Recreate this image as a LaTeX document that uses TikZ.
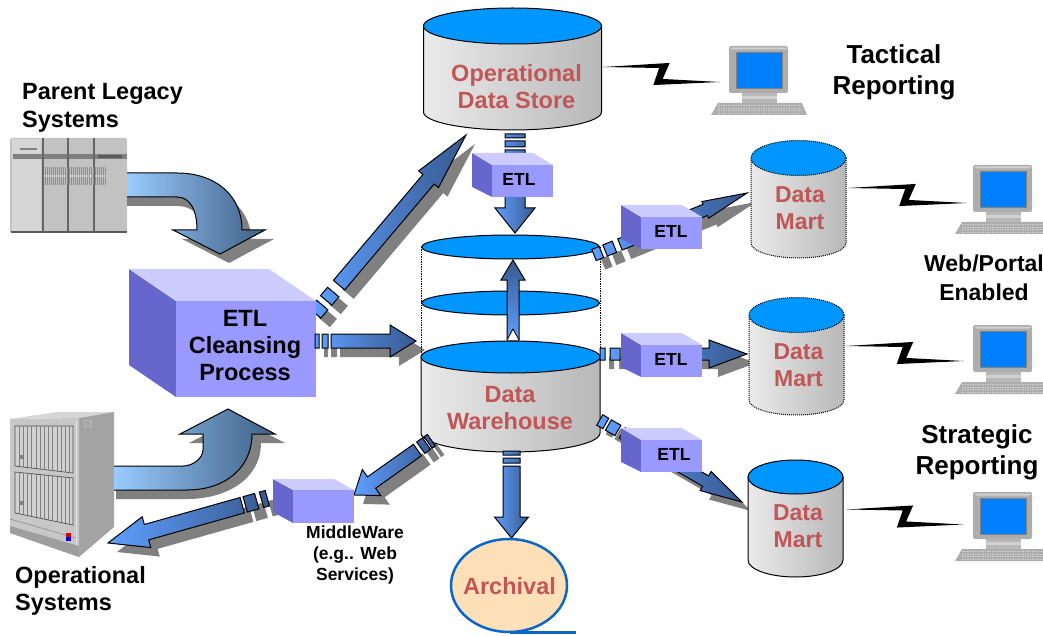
\documentclass[tikz,border=0pt]{standalone}
\usepackage{fontspec}
\setmainfont{Liberation Sans}
\usetikzlibrary{calc}
\definecolor{blueTop}{HTML}{0096FF}
\definecolor{screenBlue}{HTML}{0080FF}
\definecolor{labelRed}{HTML}{C25555}
\definecolor{boxFront}{HTML}{9999FF}
\definecolor{boxTop}{HTML}{CCCCFF}
\definecolor{boxLeft}{HTML}{6666CC}
\definecolor{arrowLight}{HTML}{5F9FFF}
\definecolor{arrowDark}{HTML}{38598F}
\definecolor{shadowGray}{HTML}{808080}
\definecolor{hookLight}{HTML}{99CCFF}
\definecolor{hookDark}{HTML}{3F5F85}
\definecolor{tapeBlue}{HTML}{0A66C8}
\definecolor{tapeFill}{HTML}{FDE0B8}
\tikzset{
  x=1pt,y=-1pt,
  lblA/.style={font=\bfseries\fontsize{23.5}{27}\selectfont,align=center,inner sep=0pt},
  lblB/.style={font=\bfseries\fontsize{26}{31}\selectfont,align=center,inner sep=0pt},
  lblL/.style={font=\bfseries\fontsize{23.5}{27.5}\selectfont,align=left,inner sep=0pt,anchor=west},
  lblRed/.style={lblA,text=labelRed},
  lblMart/.style={font=\bfseries\fontsize{23}{27}\selectfont,align=center,inner sep=0pt,text=labelRed},
  lblEtl/.style={font=\bfseries\fontsize{17.5}{21}\selectfont,inner sep=0pt},
  lblMid/.style={font=\bfseries\fontsize{17.5}{21}\selectfont,align=center,inner sep=0pt},
  edgeLine/.style={draw=black,line width=1pt},
  dotLine/.style={draw=black,line width=1pt,densely dotted},
  arrowFill/.style={draw=black,line width=1pt,left color=arrowLight,right color=arrowDark},
  hookFill/.style={draw=black,line width=1pt,left color=hookLight,right color=hookDark},
  shadowFill/.style={fill=shadowGray,draw=none},
}
% block arrow: from, to, half shaft, half head, head length, segments, shaft start
\newcommand\getvec[2]{\path let \p1=($(#2)-(#1)$), \n1={atan2(\y1,\x1)}, \n2={veclen(\x1,\y1)} in
  \pgfextra{\xdef\vang{\n1}\pgfmathparse{\n2}\xdef\vlen{\pgfmathresult}};}
\newcommand\arrowgeom[5]{%
  \foreach \sa/\sb in {#4}{ (\sa,-#1) -- (\sb,-#1) -- (\sb,#1) -- (\sa,#1) -- cycle }
  (#5,-#1) -- ({\vlen-#3},-#1) -- ({\vlen-#3},-#2) -- (\vlen,0) -- ({\vlen-#3},#2) -- ({\vlen-#3},#1) -- (#5,#1) -- cycle}
\newcommand\drawArrow[8][arrowFill]{\getvec{#2}{#3}%
  \begin{scope}[shift={(#2)},rotate=\vang]
  \path[#1] \arrowgeom{#4}{#5}{#6}{#7}{#8};
  \end{scope}}
\newcommand\shadowArrow[8][]{\getvec{#2}{#3}%
  \begin{scope}[shift={(#2)},shift={(9,9)},rotate=\vang]
  \path[shadowFill] \arrowgeom{#4}{#5}{#6}{#7}{#8};
  \end{scope}}
% cylinder: cx, top cy, rx, top ry, bottom cy, bottom ry, edge style
\newcommand\cylinder[7]{%
  \path[#7,left color=white!92!black,right color=white!72!black]
    ({#1-#3},#2) -- ({#1-#3},#5) arc[start angle=180,end angle=360,x radius=#3pt,y radius=#6pt] -- ({#1+#3},#2) -- cycle;
  \path[#7,fill=blueTop] (#1,#2) ellipse[x radius=#3pt,y radius=#4pt];}
% box faces: front x, y, w, h, dx, dy top, dy bottom
\newcommand\boxfaces[7]{%
  \fill[boxLeft] ({#1-#5},{#2-#6}) -- (#1,#2) -- (#1,{#2+#4}) -- ({#1-#5},{#2+#4-#7}) -- cycle;
  \fill[boxTop] ({#1-#5},{#2-#6}) -- ({#1+#3-#5},{#2-#6}) -- ({#1+#3},#2) -- (#1,#2) -- cycle;}
% small box: name, front x, front y, text x, text y
\newcommand\smallbox[5]{\boxfaces{#2}{#3}{61}{32}{20}{12}{10}%
  \node[fill=boxFront,minimum width=61pt,minimum height=32pt,anchor=north west,inner sep=0pt] (#1) at (#2,#3) {};
  \node[lblEtl] (#1L) at (#4,#5) {ETL};}
% computer at offset
\newcommand\computer[3]{%
  \begin{scope}[shift={(#2,#3)}]
  \coordinate (#1) at (729,70);
  \fill[white!68!black] (711,115) -- (718,103) -- (802,103) -- (807,115) -- cycle;
  \foreach \yy in {105.5,108,110.5,113}{\draw[white!82!black,line width=.5pt,dash pattern=on 1.5pt off 1pt] (718,\yy) -- (802,\yy);}
  \fill[white!72!black] (742,92) rectangle (777,103);
  \fill[white!82!black] (742,96) rectangle (777,99);
  \fill[white!68!black,rounded corners=2pt] (729,46) rectangle (788,93);
  \fill[white!82!black,rounded corners=2pt] (731,47.5) rectangle (787,49.5);
  \draw[fill=screenBlue,draw=white!50!black,line width=.6pt] (736,52) rectangle (782,88);
  \end{scope}}
\newcommand\bolt[2]{%
  \fill[black] (#1) -- ($(#1)!.57!(#2)+(0,-12.6)$) -- ($(#1)!.51!(#2)+(0,4.3)$) -- (#2)
    -- ($(#1)!.43!(#2)+(0,11.6)$) -- ($(#1)!.48!(#2)+(0,-6.2)$) -- cycle;}
\begin{document}
\begin{tikzpicture}
\useasboundingbox (0,0) rectangle (1043,636);
% ---- connector end points
\coordinate (etlOdsS) at (310,319.5); \coordinate (etlOdsT) at (466,135);
\coordinate (etlDwS) at (315,341);    \coordinate (etlDwT) at (416,341);
\coordinate (odsDwS) at (515,131);    \coordinate (odsDwT) at (515,233);
\coordinate (upS) at (513,340);       \coordinate (upT) at (513,260);
\coordinate (dwM1S) at (594,255);     \coordinate (dwM1T) at (747,193);
\coordinate (dwM2S) at (600,354);     \coordinate (dwM2T) at (747,354);
\coordinate (dwM3S) at (598,419);     \coordinate (dwM3T) at (742,502);
\coordinate (dwMwS) at (433,439);     \coordinate (dwMwT) at (354,495);
\coordinate (mwOpS) at (275,496);     \coordinate (mwOpT) at (108,543);
\coordinate (dwArS) at (511.5,451);   \coordinate (dwArT) at (511.5,538);
\coordinate (odsB) at (603,67);   \coordinate (pc1B) at (720,82);
\coordinate (m1B) at (848,188);   \coordinate (pc2B) at (967,203);
\coordinate (m2B) at (846,346);   \coordinate (pc3B) at (964,361);
\coordinate (m3B) at (847,509.5); \coordinate (pc4B) at (963,524.5);
% ---- shadows
\shadowArrow{etlOdsS}{etlOdsT}{7.4}{13}{58}{8/19,25/36}{45}
\shadowArrow{etlDwS}{etlDwT}{7}{16}{26}{0/4,7/13}{16}
\shadowArrow{dwM1S}{dwM1T}{6}{9}{45}{0/8,12/22}{28}
\shadowArrow{dwM2S}{dwM2T}{6}{14}{38}{0/5,10/20}{25}
\shadowArrow{dwM3S}{dwM3T}{6}{11}{42}{2/9,12/23}{28}
\shadowArrow{dwMwS}{dwMwT}{7}{16}{21.5}{2/6,8/15}{19}
\shadowArrow{mwOpS}{mwOpT}{8}{16}{40}{8/14,19/31}{34}
% ---- parent legacy system
\fill[white!76!black,rounded corners=2pt] (10,138) rectangle (127,233);
\fill[white!84!black] (12,139) rectangle (41,231);
\fill[white!50!black] (13,154) rectangle (127,159);
\fill[white!35!black] (98,155) rectangle (122,158);
\fill[white!50!black] (20,148) rectangle (37,150);
\foreach \xx in {43,68,94}{\fill[white!40!black] (\xx-1,138) rectangle (\xx+1,233);}
\foreach \xx in {45,47,...,105}{\draw[white!55!black,line width=.6pt] (\xx,167) -- (\xx,175);\draw[white!55!black,line width=.6pt] (\xx,177) -- (\xx,185);}
\fill[white!35!black] (11,231) rectangle (127,233);
% ---- operational system
\fill[white!84!black] (10,419) -- (57,412) -- (114,412) -- (79,418) -- cycle;
\fill[white!64!black] (79,418) -- (114,412) -- (114,527) -- (79,557) -- cycle;
\fill[white!78!black] (10,419) -- (79,418) -- (79,557) -- (10,533) -- cycle;
\fill[white!62!black] (10,526) -- (79,546) -- (79,557) -- (10,533) -- cycle;
\draw[white!55!black,line width=.6pt] (10,519) -- (76,538);
\draw[white!88!black,line width=.8pt] (76,420) -- (76,545);
\draw[white!72!black,fill=white!66!black,line width=.4pt] (84,420) rectangle (91,427);
\draw[fill=white!82!black,draw=white!30!black,line width=.7pt] (15,426) -- (73,426) -- (73,473) -- (15,466) -- cycle;
\draw[fill=white!82!black,draw=white!30!black,line width=.7pt] (15,472) -- (73,478) -- (73,525) -- (15,513) -- cycle;
\foreach \xx in {19,23.2,...,71}{\draw[white!50!black,line width=.5pt] (\xx,426) -- (\xx,{466+(\xx-15)*.12});\draw[white!50!black,line width=.5pt] (\xx,{472+(\xx-15)*.1}) -- (\xx,{513+(\xx-15)*.2});}
\fill[white!50!black] (19,455) rectangle (24,459);
\fill[white!50!black] (19,501) rectangle (24,505);
\fill[red!85!black] (66,533) rectangle (71,537);
\fill[blue] (66,537) rectangle (71,541);
% ---- hook arrows
\fill[shadowFill] (127,206) -- (177,206) .. controls (195,206) and (206,220) .. (206,239) -- (182,239) -- (229,263) -- (274,239) -- (251,239) .. controls (251,206) and (218,182) .. (177,182) -- (127,182) -- cycle;
\fill[shadowFill] (116,499) -- (187,499) .. controls (228,499) and (261,478) .. (261,443) -- (285,443) -- (237,418) -- (189,443) -- (212,443) -- (212,459) .. controls (212,468) and (202,475) .. (192,475) -- (116,475) -- cycle;
\path[hookFill] (127,173) -- (177,173) .. controls (215,173) and (242,195) .. (242,230) -- (265,230) -- (220,254) -- (173,230) -- (197,230) .. controls (197,210) and (190,197) .. (177,197) -- (127,197);
\path[hookFill] (114,466) -- (183,466) .. controls (193,466) and (203,458) .. (203,450) -- (203,434) -- (180,434) -- (228,409) -- (275,434) -- (252,434) .. controls (252,468) and (225,490) .. (187,490) -- (114,490);
% ---- data marts, ODS, warehouse
\draw[black,line width=.7pt,densely dotted] (421,247) -- (421,357);
\draw[black,line width=.7pt,densely dotted] (600,247) -- (600,357);
\cylinder{512.5}{26}{89}{18}{112}{18}{edgeLine}
\path[edgeLine,fill=blueTop] (510.5,247) ellipse[x radius=89pt,y radius=12pt];
\path[edgeLine,fill=blueTop] (510.5,303) ellipse[x radius=89pt,y radius=12pt];
\cylinder{510.5}{357}{89.5}{16}{433}{19}{edgeLine}
\cylinder{798.5}{158}{47.5}{17.5}{243}{15}{dotLine}
\cylinder{796.5}{315}{47.5}{17.5}{400}{15}{dotLine}
\cylinder{795.5}{477}{47.5}{17}{560}{17}{edgeLine}
% ---- block arrows
\drawArrow{etlOdsS}{etlOdsT}{7.4}{13}{58}{8/19,25/36}{45}
\drawArrow{odsDwS}{odsDwT}{10}{20}{25}{3/7,10/16}{19}
\drawArrow[draw=black,line width=1pt,top color=arrowDark,bottom color=arrowLight]{upS}{upT}{6}{12}{20}{0/0}{0}
\draw[fill=white,draw=black,line width=.8pt] (507,340) -- (513,329) -- (519,340);
\drawArrow{dwM1S}{dwM1T}{6}{9}{45}{0/8,12/22}{28}
\drawArrow{dwM2S}{dwM2T}{6}{14}{38}{0/5,10/20}{25}
\drawArrow{dwM3S}{dwM3T}{6}{11}{42}{2/9,12/23}{28}
\drawArrow{dwMwS}{dwMwT}{7}{16}{21.5}{2/6,8/15}{19}
\drawArrow{mwOpS}{mwOpT}{8}{16}{40}{8/14,19/31}{34}
\drawArrow{dwArS}{dwArT}{8.5}{17}{21}{0/4,7/12}{15}
% ---- boxes
\boxfaces{176}{301}{140}{96}{47}{32}{32}
\node[fill=boxFront,minimum width=140pt,minimum height=96pt,anchor=north west,inner sep=0pt] (etl) at (176,301) {};
\node[lblA] (etlL) at (245,346) {ETL\\Cleansing\\Process};
\drawArrow{etlDwS}{etlDwT}{7}{16}{26}{0/4,7/13}{16}
\smallbox{etlA}{492}{165}{519}{179.5}
\smallbox{etlB}{641}{217}{671}{231}
\smallbox{etlC}{641}{345}{671}{359}
\smallbox{etlD}{641}{440}{674}{454}
\boxfaces{293}{490}{61}{33}{20}{11}{11}
\node[fill=boxFront,minimum width=61pt,minimum height=33pt,anchor=north west,inner sep=0pt] (mw) at (293,490) {};
% ---- archival
\draw[draw=tapeBlue,line width=2.5pt,fill=tapeFill] (509,585.5) ellipse[x radius=58pt,y radius=46.5pt];
\draw[tapeBlue,line width=2.5pt] (510,632.5) -- (576,632.5);
\node[lblRed] (arch) at (509.5,586) {Archival};
% ---- computers and links
\computer{pcA}{0}{0}
\computer{pcB}{244}{119}
\computer{pcC}{244}{279}
\computer{pcD}{244}{446}
\bolt{odsB}{pc1B}
\bolt{m1B}{pc2B}
\bolt{m2B}{pc3B}
\bolt{m3B}{pc4B}
% ---- labels
\node[lblRed] (odsL) at (516.5,86.5) {Operational\\Data Store};
\node[lblRed] (dwL) at (510,408) {Data\\Warehouse};
\node[lblMart] (m1L) at (800,208.5) {Data\\Mart};
\node[lblMart] (m2L) at (798.5,365) {Data\\Mart};
\node[lblMart] (m3L) at (798,526.5) {Data\\Mart};
\node[lblB] (tac) at (894,72.5) {Tactical\\Reporting};
\node[lblB] (str) at (977,452.5) {Strategic\\Reporting};
\node[font=\bfseries\fontsize{23}{29}\selectfont,align=center,inner sep=0pt] (web) at (984,277.5) {Web/Portal\\Enabled};
\node[lblL] (pls) at (22,108) {Parent Legacy\\Systems};
\node[lblL] (ops) at (15,591) {Operational\\Systems};
\node[lblMid] (mwL) at (355,555) {MiddleWare\\(e.g.. Web\\Services)};
\end{tikzpicture}
\end{document}
